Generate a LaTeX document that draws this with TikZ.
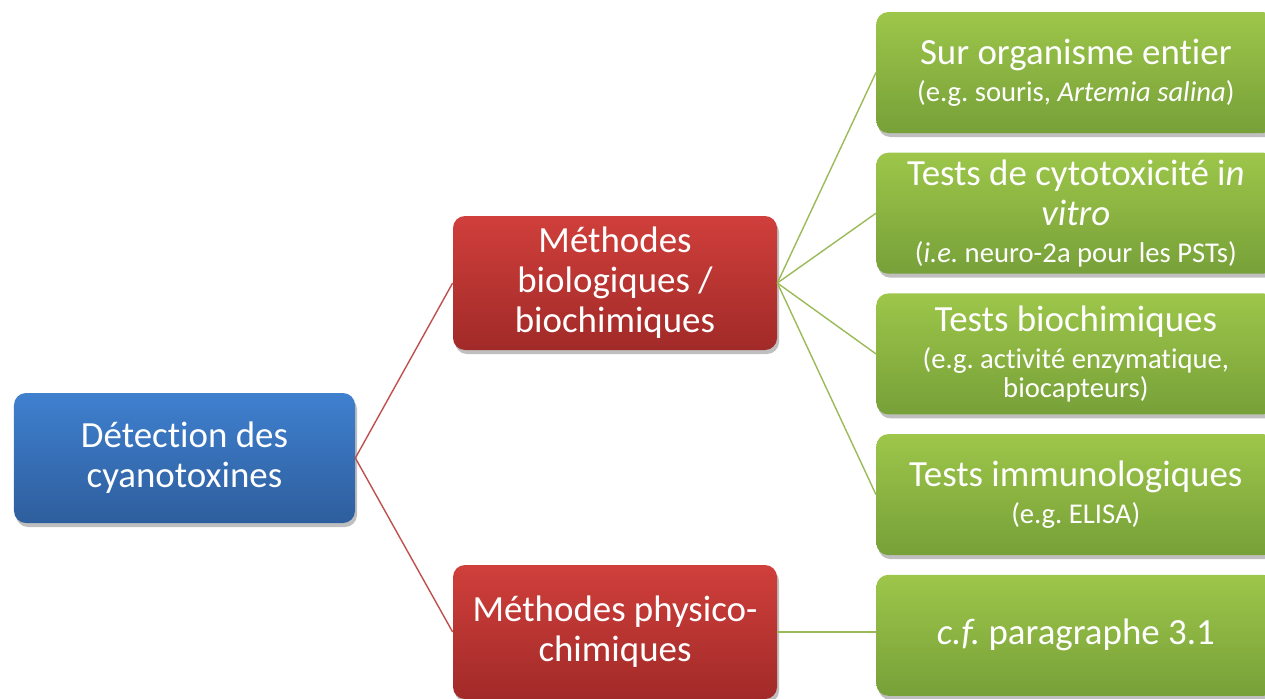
\documentclass[tikz,border=0pt]{standalone}
\usepackage{fontspec}
\setmainfont{Carlito}[Ligatures=NoCommon]
\usepackage{xcolor}
\usetikzlibrary{positioning, shadows}
\definecolor{blueTop}{HTML}{3F80CF}
\definecolor{blueBot}{HTML}{2E5E9D}
\definecolor{redTop}{HTML}{D03F3B}
\definecolor{redBot}{HTML}{A12A28}
\definecolor{greenTop}{HTML}{9DC64A}
\definecolor{greenBot}{HTML}{77A039}
\definecolor{redLine}{HTML}{C0504D}
\definecolor{greenLine}{HTML}{9BBB59}
\newcommand{\bigtxt}{\fontsize{21}{22.7}\selectfont\frenchspacing}
\newcommand{\smalltxt}{\fontsize{16.3}{22.7}\selectfont}

\begin{document}
\begin{tikzpicture}
    \tikzstyle{box} = [rectangle, rounded corners=0.24cm, text=white, align=center, font=\bigtxt, inner sep=0pt,
        drop shadow={shadow xshift=0.04cm, shadow yshift=-0.08cm, opacity=0.25, fill=black}]
    \tikzstyle{root} = [box, top color=blueTop, bottom color=blueBot, minimum width=6.82cm, minimum height=2.6cm]
    \tikzstyle{method} = [box, top color=redTop, bottom color=redBot, minimum width=6.48cm, minimum height=2.68cm]
    \tikzstyle{test} = [box, top color=greenTop, bottom color=greenBot, minimum width=7.98cm, minimum height=2.42cm, anchor=west]
    \tikzstyle{redlink} = [draw=redLine, line width=0.8pt]
    \tikzstyle{greenlink} = [draw=greenLine, line width=0.8pt]

    \clip (0,0) rectangle (25.3,-13.96);

    \node[root] (detect) at (3.69,-9.16) {Détection des\\cyanotoxines};
    \node[method] (bio) at (12.3,-5.66) {Méthodes\\biologiques /\\biochimiques};
    \node[method] (physico) at (12.3,-12.64) {Méthodes physico-\\chimiques};

    \node[test] (whole) at (17.52,-1.45) {Sur organisme entier\\[-1.7pt]{\smalltxt(e.g. souris, \textit{Artemia salina})}};
    \node[test, below=0.38cm of whole.south west, anchor=north west] (cyto) {Tests de cytotoxicité i\textit{n}\\\textit{vitro}\\[-1.7pt]{\smalltxt(\textit{i.e.} neuro-2a pour les PSTs)}};
    \node[test, below=0.38cm of cyto.south west, anchor=north west] (biochem) {Tests biochimiques\\[-1.7pt]{\smalltxt(e.g. activité enzymatique,}\\[-6.3pt]{\smalltxt biocapteurs)}};
    \node[test, below=0.38cm of biochem.south west, anchor=north west] (immuno) {Tests immunologiques\\[-1.7pt]{\smalltxt(e.g. ELISA)}};
    \node[test, below=0.38cm of immuno.south west, anchor=north west] (para) {\textit{c.f.} paragraphe 3.1};

    \draw[redlink] (detect.east) -- (bio.west);
    \draw[redlink] (detect.east) -- (physico.west);
    \draw[greenlink] (bio.east) -- (whole.west);
    \draw[greenlink] (bio.east) -- (cyto.west);
    \draw[greenlink] (bio.east) -- (biochem.west);
    \draw[greenlink] (bio.east) -- (immuno.west);
    \draw[greenlink] (physico.east) -- (physico.east -| para.west);
\end{tikzpicture}
\end{document}
